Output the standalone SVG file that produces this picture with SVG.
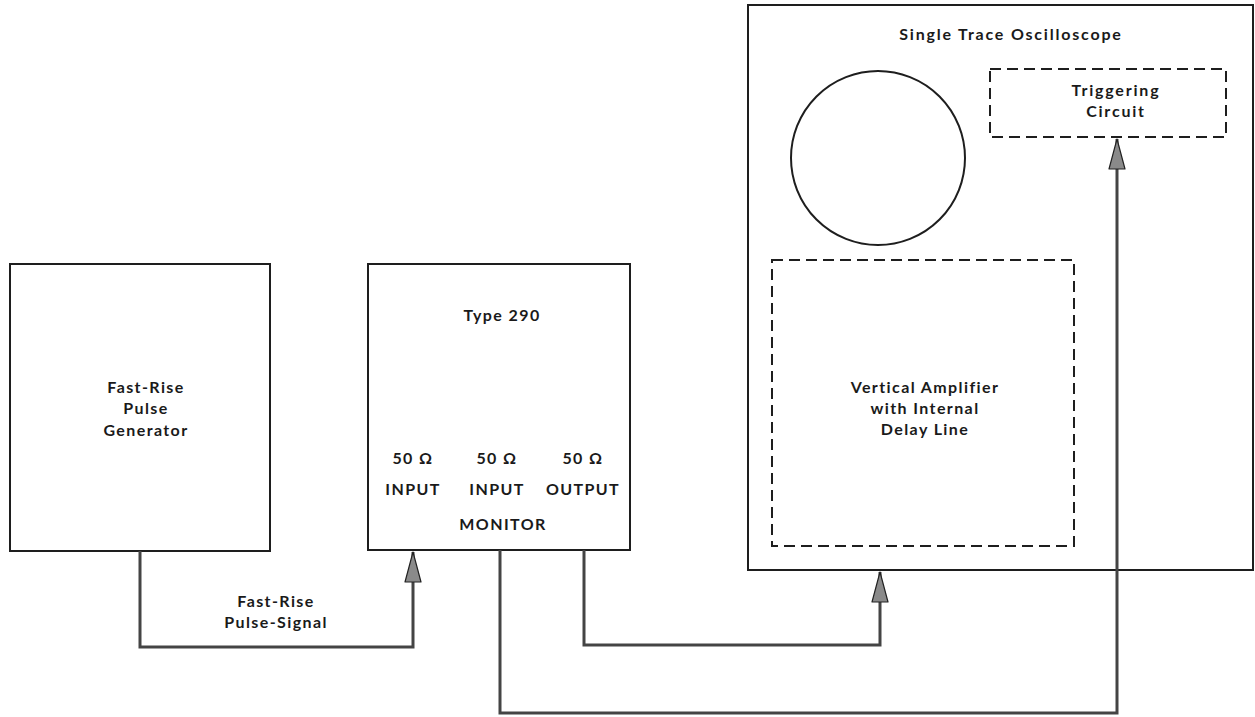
<svg xmlns="http://www.w3.org/2000/svg" width="1255" height="717" viewBox="0 0 1255 717">
<defs>
<marker id="arr" viewBox="0 0 32 18" refX="31" refY="9" markerWidth="32" markerHeight="18" markerUnits="userSpaceOnUse" orient="auto">
<path d="M31,9 L1,1 L1,17 Z" fill="#8a8a8a" stroke="#222" stroke-width="1.2" stroke-linejoin="round"/>
</marker>
<style>
.box{fill:#fff;stroke:#1e1e1e;stroke-width:2}
.dash{fill:none;stroke:#1e1e1e;stroke-width:2;stroke-dasharray:11 6}
.conn{fill:none;stroke:#444;stroke-width:3}
text{font-family:"Lato","Liberation Sans",sans-serif;font-weight:bold;fill:#1a1a1a;text-anchor:middle;font-size:16px;letter-spacing:1.4px}
</style>
</defs>
<rect width="1255" height="717" fill="#fff"/>
<g id="generator">
<rect class="box" x="10" y="264" width="260" height="287"/>
<text x="146" y="393">Fast-Rise</text>
<text x="146" y="414">Pulse</text>
<text x="146" y="436">Generator</text>
</g>
<g id="type290">
<rect class="box" x="368" y="264" width="262" height="286"/>
<text x="502" y="321">Type  290</text>
<text x="413" y="464">50 Ω</text>
<text x="497" y="464">50 Ω</text>
<text x="583" y="464">50 Ω</text>
<text x="413" y="495">INPUT</text>
<text x="497" y="495">INPUT</text>
<text x="583" y="495">OUTPUT</text>
<text x="503" y="530">MONITOR</text>
</g>
<g id="oscilloscope">
<rect class="box" x="748" y="5" width="505" height="565"/>
<text x="1011" y="40" style="letter-spacing:1.8px">Single  Trace  Oscilloscope</text>
<circle cx="878" cy="158" r="87" fill="none" stroke="#1e1e1e" stroke-width="2"/>
</g>
<g id="triggering">
<rect class="dash" x="990" y="69" width="236" height="68"/>
<text x="1116" y="96" style="letter-spacing:1.8px">Triggering</text>
<text x="1116" y="117" style="letter-spacing:1.8px">Circuit</text>
</g>
<g id="vertamp">
<rect class="dash" x="772" y="260" width="302" height="286"/>
<text x="925" y="393">Vertical  Amplifier</text>
<text x="925" y="414">with  Internal</text>
<text x="925" y="435">Delay  Line</text>
</g>
<g id="connectors">
<path class="conn" d="M140,551 V647 H413 V552" marker-end="url(#arr)"/>
<path class="conn" d="M584,550 V645 H880 V572" marker-end="url(#arr)"/>
<path class="conn" d="M500,550 V713 H1117 V139" marker-end="url(#arr)"/>
<text x="276" y="607">Fast-Rise</text>
<text x="276" y="628">Pulse-Signal</text>
</g>
</svg>
